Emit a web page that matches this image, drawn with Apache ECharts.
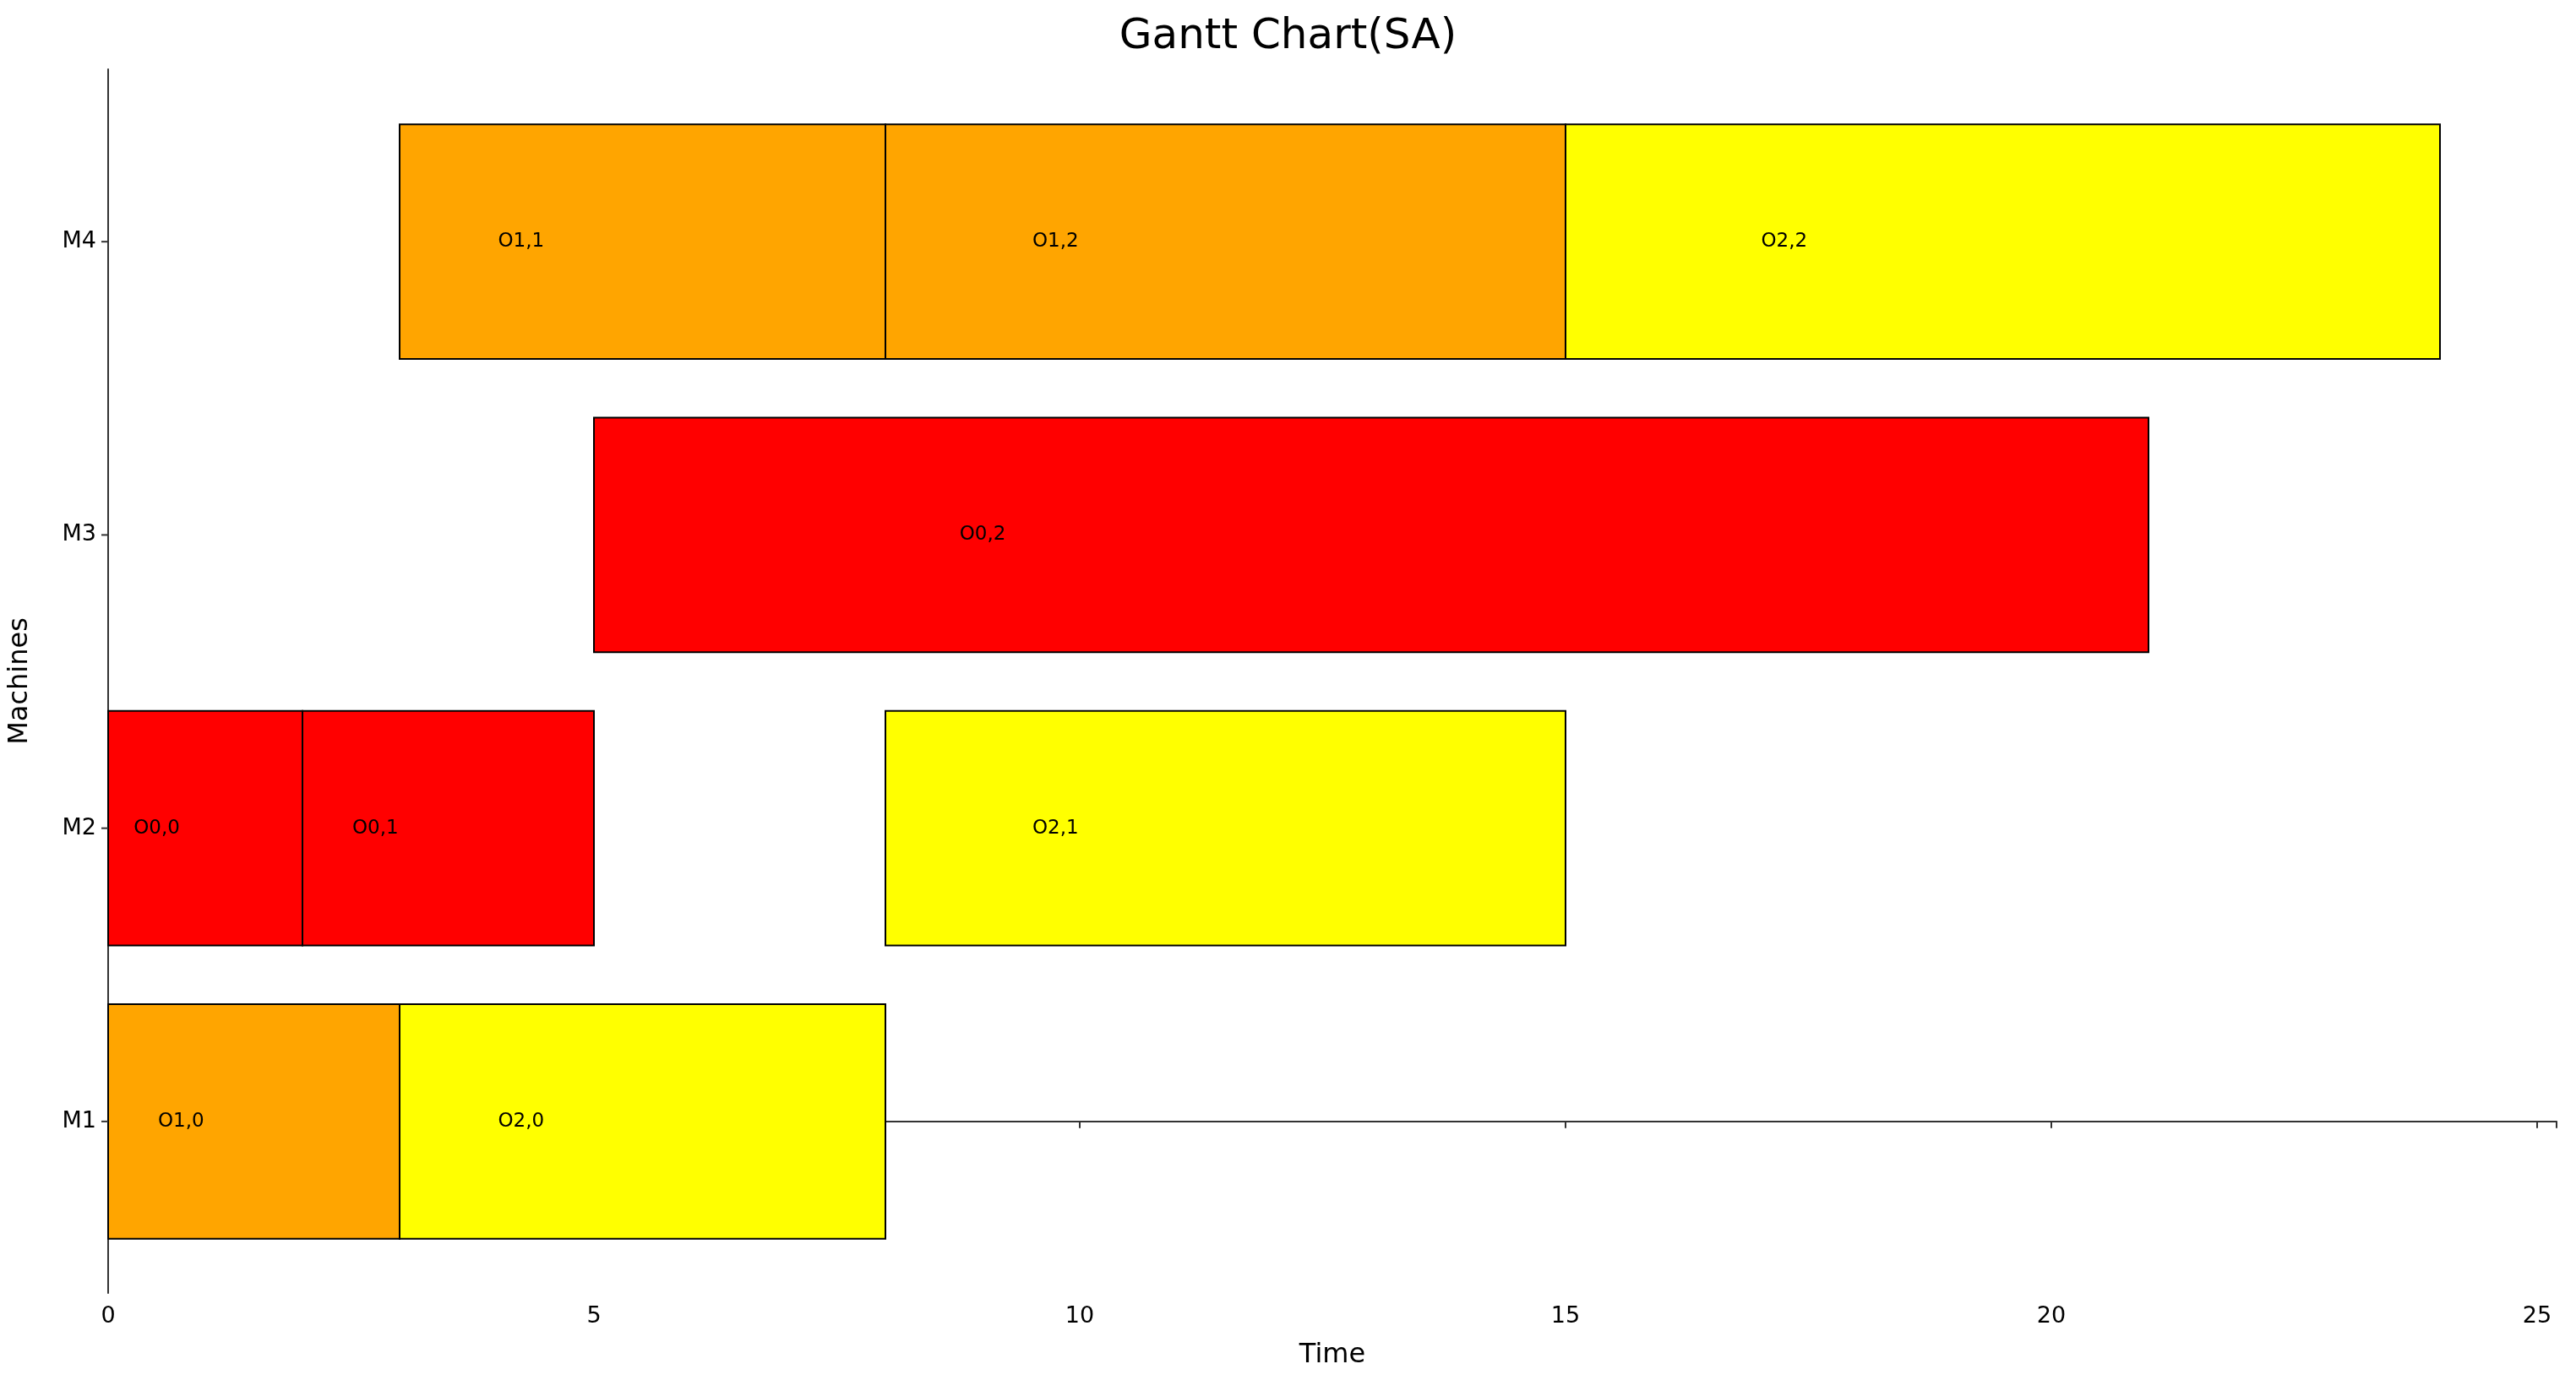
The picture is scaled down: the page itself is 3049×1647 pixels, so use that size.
<!DOCTYPE html>
<html>
<head>
<meta charset="utf-8">
<script src="https://cdn.jsdelivr.net/npm/echarts@6/dist/echarts.min.js"></script>
<style>html,body{margin:0;padding:0;background:#fff}#main{width:3049px;height:1647px}</style>
</head>
<body>
<div id="main"></div>
<script>
var machines = ['M1', 'M2', 'M3', 'M4'];
var opNames = ['O1,0', 'O2,0', 'O0,0', 'O0,1', 'O2,1', 'O0,2', 'O1,1', 'O1,2', 'O2,2'];
var opMachine = [0, 0, 1, 1, 1, 2, 3, 3, 3];
var opStart = [0, 3, 0, 2, 8, 5, 3, 8, 15];
var opEnd = [3, 8, 2, 5, 15, 21, 8, 15, 24];
var opJob = [1, 2, 0, 0, 2, 0, 1, 1, 2];
var jobColors = ['#ff0000', '#ffa500', '#ffff00'];

var data = [];
for (var i = 0; i < opNames.length; i++) {
  data.push({ name: opNames[i], value: [opMachine[i], opStart[i], opEnd[i], opJob[i]] });
}

var chart = echarts.init(document.getElementById('main'));
chart.setOption({
  animation: false,
  title: { text: 'Gantt Chart(SA)', left: 'center', top: 14,
    textStyle: { fontFamily: 'DejaVu Sans', fontSize: 50, fontWeight: 'normal', color: '#000' } },
  grid: { left: 121, right: 23, top: 82, bottom: 116 },
  xAxis: {
    type: 'value', min: 0, max: 25.2, interval: 5,
    name: 'Time', nameLocation: 'middle', nameGap: 58,
    nameTextStyle: { fontFamily: 'DejaVu Sans', fontSize: 32, color: '#000' },
    axisLine: { show: true, lineStyle: { color: '#333', width: 2 } },
    axisTick: { show: true, length: 8, lineStyle: { color: '#333', width: 2 } },
    axisLabel: { fontFamily: 'DejaVu Sans', fontSize: 27, color: '#000', margin: 14,
      formatter: function (v) { return v % 5 === 0 ? v : ''; } },
    splitLine: { show: false }
  },
  yAxis: {
    type: 'value', min: -0.585, max: 3.588,
    name: 'Machines', nameLocation: 'middle', nameGap: 88, nameRotate: 90,
    nameTextStyle: { fontFamily: 'DejaVu Sans', fontSize: 32, color: '#000' },
    axisLine: { show: true, lineStyle: { color: '#333', width: 2 } },
    axisTick: { show: false },
    axisLabel: { show: false },
    splitLine: { show: false }
  },
  series: [{
    type: 'custom',
    renderItem: function (params, api) {
      var m = api.value(0), s = api.value(1), e = api.value(2), j = api.value(3);
      var p0 = api.coord([s, m + 0.4]);
      var p1 = api.coord([e, m - 0.4]);
      var lp = api.coord([s + (e - s) / 4, m]);
      return {
        type: 'group',
        children: [{
          type: 'rect',
          shape: { x: p0[0], y: p0[1], width: p1[0] - p0[0], height: p1[1] - p0[1] },
          style: { fill: jobColors[j], stroke: '#000', lineWidth: 2 }
        }, {
          type: 'text',
          style: { text: opNames[params.dataIndex], x: lp[0], y: lp[1], align: 'center', verticalAlign: 'middle',
            fontFamily: 'DejaVu Sans', fontSize: 23, fill: '#000' }
        }]
      };
    },
    encode: { x: [1, 2], y: 0 },
    data: data
  }, {
    type: 'custom',
    renderItem: function (params, api) {
      var p = api.coord([0, params.dataIndex]);
      return {
        type: 'group',
        children: [{
          type: 'line', shape: { x1: p[0] - 8, y1: p[1], x2: p[0], y2: p[1] },
          style: { stroke: '#333', lineWidth: 2 }
        }, {
          type: 'text',
          style: { text: machines[params.dataIndex], x: p[0] - 14, y: p[1], align: 'right', verticalAlign: 'middle',
            fontFamily: 'DejaVu Sans', fontSize: 27, fill: '#000' }
        }]
      };
    },
    data: machines.map(function (m, i) { return [0, i]; })
  }]
});
</script>
</body>
</html>
